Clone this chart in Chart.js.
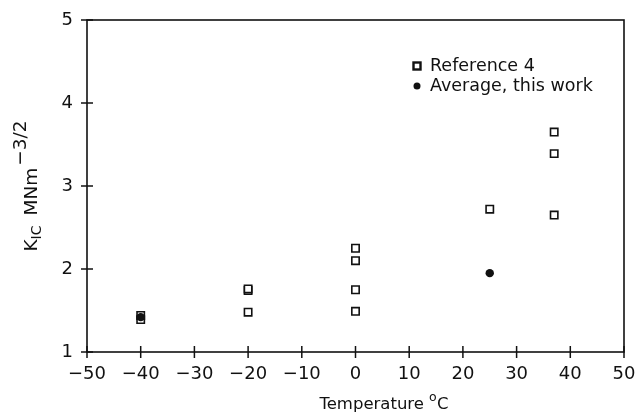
<!DOCTYPE html>
<html>
<head>
<meta charset="utf-8">
<script src="https://cdn.jsdelivr.net/npm/chart.js@4"></script>
<style>
html,body{margin:0;padding:0;background:#fff;}
#wrap{width:638px;height:419px;position:relative;}
</style>
</head>
<body>
<div id="wrap"><canvas id="c" width="638" height="419"></canvas></div>
<script>
// Data
const refTemps = [-40, -40, -20, -20, -20, 0, 0, 0, 0, 25, 37, 37, 37];
const refKIc   = [1.39, 1.44, 1.48, 1.74, 1.76, 1.49, 1.75, 2.10, 2.25, 2.72, 2.65, 3.39, 3.65];
const avgTemps = [-40, 25];
const avgKIc   = [1.42, 1.95];
const seriesLabels = ['Reference 4', 'Average, this work'];
const xTicks = [-50, -40, -30, -20, -10, 0, 10, 20, 30, 40, 50];
const yTicks = [1, 2, 3, 4, 5];

const FONT = '"DejaVu Sans", sans-serif';
const INK = '#111';

const refPoints = refTemps.map((t, i) => ({x: t, y: refKIc[i]}));
const avgPoints = avgTemps.map((t, i) => ({x: t, y: avgKIc[i]}));

function measureRuns(ctx, runs) {
  let w = 0;
  runs.forEach(r => { ctx.font = r.size + 'px ' + FONT; r.w = ctx.measureText(r.text).width; w += r.w + (r.gap || 0); });
  return w;
}
function paintRuns(ctx, runs, x, y) {
  let cx = x;
  runs.forEach(r => {
    ctx.font = r.size + 'px ' + FONT;
    ctx.fillText(r.text, cx, y + (r.dy || 0));
    cx += r.w + (r.gap || 0);
  });
}

const decor = {
  id: 'decor',
  afterDraw(chart) {
    const ctx = chart.ctx;
    const a = chart.chartArea;
    const xs = chart.scales.x, ys = chart.scales.y;
    ctx.save();
    ctx.strokeStyle = INK;
    ctx.lineWidth = 1.6;
    ctx.strokeRect(a.left, a.top, a.right - a.left, a.bottom - a.top);
    // crossing tick marks
    ctx.lineWidth = 1.5;
    xTicks.forEach(v => {
      const px = xs.getPixelForValue(v);
      ctx.beginPath(); ctx.moveTo(px, a.bottom - 6); ctx.lineTo(px, a.bottom + 6); ctx.stroke();
    });
    yTicks.forEach(v => {
      const py = ys.getPixelForValue(v);
      ctx.beginPath(); ctx.moveTo(a.left - 6, py); ctx.lineTo(a.left + 6, py); ctx.stroke();
    });
    // legend
    ctx.fillStyle = INK;
    ctx.textBaseline = 'middle';
    ctx.textAlign = 'left';
    const lx = 417, ly1 = 66, ly2 = 86;
    ctx.lineWidth = 2.4;
    ctx.fillStyle = '#fff';
    ctx.fillRect(lx - 3.5, ly1 - 3.5, 7, 7);
    ctx.strokeRect(lx - 3.5, ly1 - 3.5, 7, 7);
    ctx.fillStyle = INK;
    ctx.beginPath(); ctx.arc(lx, ly2, 3.5, 0, Math.PI * 2); ctx.fill();
    ctx.font = '17.5px ' + FONT;
    ctx.fillText(seriesLabels[0], 430, ly1);
    ctx.fillText(seriesLabels[1], 430, ly2);
    // x title
    ctx.textBaseline = 'alphabetic';
    const xr = [
      {text: 'Temperature', size: 16.5, gap: 5},
      {text: 'o', size: 12.5, dy: -8, gap: 0.5},
      {text: 'C', size: 16.5}
    ];
    const xw = measureRuns(ctx, xr);
    paintRuns(ctx, xr, 384 - xw / 2, 409);
    // y title rotated
    const yr = [
      {text: 'K', size: 18.5},
      {text: 'IC', size: 14, dy: 4, gap: 10},
      {text: 'MNm', size: 18.5, gap: 2},
      {text: '\u22123/2', size: 18.5, dy: -11}
    ];
    const yw = measureRuns(ctx, yr);
    ctx.translate(37, (a.top + a.bottom) / 2);
    ctx.rotate(-Math.PI / 2);
    paintRuns(ctx, yr, -yw / 2, 0);
    ctx.restore();
  }
};

new Chart(document.getElementById('c'), {
  type: 'scatter',
  data: {
    datasets: [
      {
        label: seriesLabels[0],
        data: refPoints,
        order: 1,
        pointStyle: 'rect',
        pointRadius: 5.2,
        pointHoverRadius: 5.2,
        borderWidth: 1.6,
        borderColor: INK,
        backgroundColor: '#fff'
      },
      {
        label: seriesLabels[1],
        data: avgPoints,
        order: 0,
        pointStyle: 'circle',
        pointRadius: 4.2,
        pointHoverRadius: 4.2,
        borderWidth: 0,
        borderColor: INK,
        backgroundColor: INK
      }
    ]
  },
  options: {
    responsive: false,
    animation: false,
    events: [],
    layout: {padding: {top: 20, right: 14, left: 0, bottom: 0}},
    plugins: {legend: {display: false}, tooltip: {enabled: false}},
    scales: {
      x: {
        type: 'linear',
        min: -50, max: 50,
        afterBuildTicks: s => { s.ticks = xTicks.map(v => ({value: v})); },
        afterFit: s => { s.height = 67; s.paddingLeft = 0; s.paddingRight = 0; },
        grid: {display: false, drawTicks: false},
        border: {display: false},
        ticks: {
          color: INK,
          font: {family: FONT, size: 18},
          padding: 12,
          maxRotation: 0,
          autoSkip: false,
          callback: v => (v < 0 ? '\u2212' + Math.abs(v) : String(v))
        }
      },
      y: {
        type: 'linear',
        min: 1, max: 5,
        afterBuildTicks: s => { s.ticks = yTicks.map(v => ({value: v})); },
        afterFit: s => { s.width = 87; s.paddingTop = 0; s.paddingBottom = 0; },
        grid: {display: false, drawTicks: false},
        border: {display: false},
        ticks: {
          color: INK,
          font: {family: FONT, size: 18},
          padding: 14
        }
      }
    }
  },
  plugins: [decor]
});
</script>
</body>
</html>
